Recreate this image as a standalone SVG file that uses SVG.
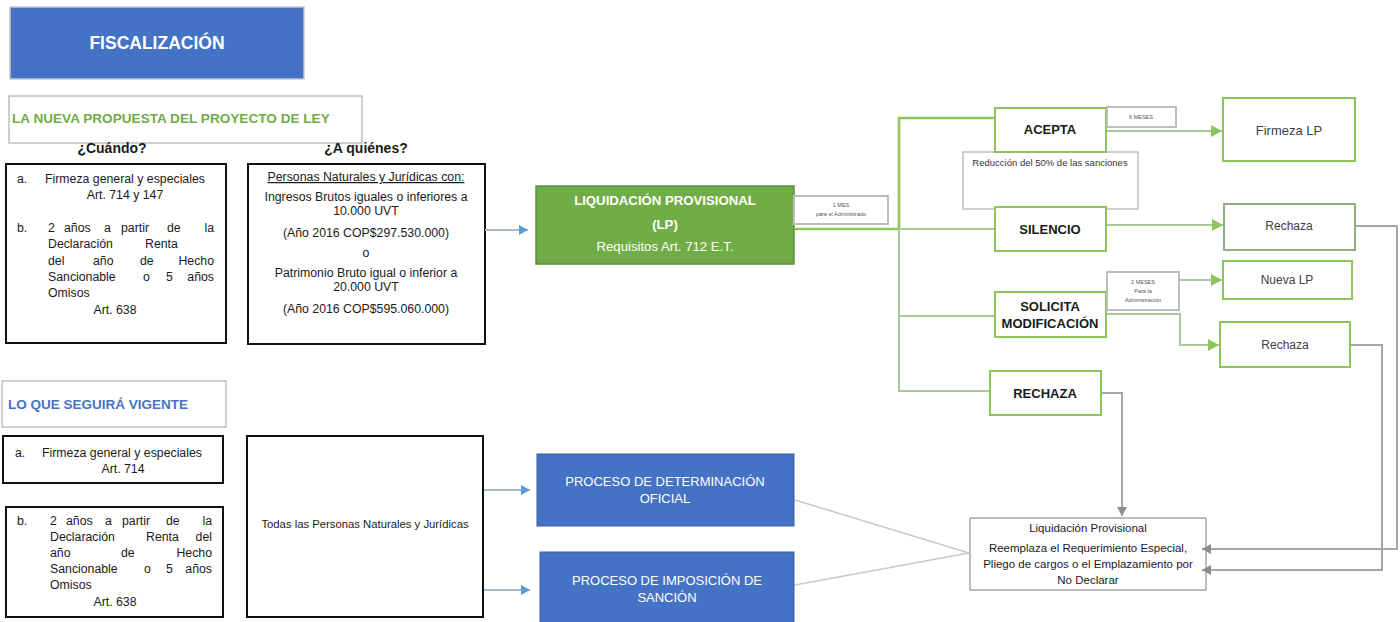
<svg xmlns="http://www.w3.org/2000/svg" width="1400" height="622" viewBox="0 0 1400 622">
<style>
text{font-family:"Liberation Sans",Arial,sans-serif;fill:#1a1a1a}
.b{font-weight:bold}
.c{text-anchor:middle}
.e{text-anchor:end}
.blk{fill:#fff;stroke:#111;stroke-width:2}
.gbox{fill:#fff;stroke:#8DC45C;stroke-width:2}
.gray{fill:#fff;stroke:#BFBFBF;stroke-width:1.5}
.lbl{fill:#fff;stroke:#BDBDBD;stroke-width:2}
.tiny{font-size:5.5px;fill:#555}
.w{fill:#fff}
.t12{font-size:12.3px}
.conG{fill:none;stroke:#A9C99A;stroke-width:2}
.conG2{fill:none;stroke:#8DC45C;stroke-width:2.5}
.conB{fill:none;stroke:#A6B8CC;stroke-width:2}
.conY{fill:none;stroke:#A6A6A6;stroke-width:2}
.conL{fill:none;stroke:#C8C8C8;stroke-width:1.5}
</style>
<defs>
<marker id="ag" markerUnits="userSpaceOnUse" markerWidth="12" markerHeight="12" refX="11" refY="6" orient="auto"><path d="M0,0 L11,6 L0,12 z" fill="#8DC45C"/></marker>
<marker id="ab" markerUnits="userSpaceOnUse" markerWidth="10" markerHeight="10" refX="9" refY="5" orient="auto"><path d="M0,0 L9,5 L0,10 z" fill="#5B9BD5"/></marker>
<marker id="ay" markerUnits="userSpaceOnUse" markerWidth="10" markerHeight="10" refX="9" refY="5" orient="auto"><path d="M0,0 L9,5 L0,10 z" fill="#8C8C8C"/></marker>
</defs>
<rect width="1400" height="622" fill="#fff"/>

<g id="fiscalizacion">
<rect x="10" y="7" width="294" height="72" fill="#4472C4" stroke="#C9C9C9" stroke-width="1.5"/>
<text x="157" y="49" class="b c w" font-size="17.5" style="fill:#fff">FISCALIZACIÓN</text>
</g>

<g id="nueva-propuesta">
<rect x="9" y="96" width="353" height="47" class="gray"/>
<text x="12" y="123" class="b" font-size="13.6" style="fill:#70AD47">LA NUEVA PROPUESTA DEL PROYECTO DE LEY</text>
</g>

<g id="cuando-title"><text x="112" y="153" class="b c" font-size="14">¿Cuándo?</text></g>
<g id="aquienes-title"><text x="366" y="153" class="b c" font-size="14">¿A quiénes?</text></g>

<g id="cuando-box" class="t12">
<rect x="6" y="164" width="220" height="179" class="blk"/>
<text x="17" y="183">a.</text>
<text x="45" y="183">Firmeza general y especiales</text>
<text x="125" y="199" class="c">Art. 714 y 147</text>
<text x="17" y="232">b.</text>
<text y="232"><tspan x="48">2</tspan><tspan x="64">años</tspan><tspan x="104">a</tspan><tspan x="121">partir</tspan><tspan x="167">de</tspan></text>
<text x="214" y="232" class="e">la</text>
<text y="248"><tspan x="48">Declaración</tspan><tspan x="145">Renta</tspan></text>
<text y="265"><tspan x="48">del</tspan><tspan x="93">año</tspan><tspan x="140">de</tspan></text>
<text x="214" y="265" class="e">Hecho</text>
<text y="281"><tspan x="48">Sancionable</tspan><tspan x="143">o</tspan><tspan x="166">5</tspan></text>
<text x="214" y="281" class="e">años</text>
<text x="48" y="297">Omisos</text>
<text x="115" y="314" class="c">Art. 638</text>
</g>

<g id="aquienes-box" class="t12">
<rect x="248" y="164" width="237" height="180" class="blk"/>
<text x="366" y="181" class="c" text-decoration="underline">Personas Naturales  y Jurídicas con:</text>
<text x="366" y="201" class="c">Ingresos Brutos iguales o inferiores a</text>
<text x="366" y="215" class="c">10.000 UVT</text>
<text x="366" y="237" class="c">(Año 2016 COP$297.530.000)</text>
<text x="366" y="257" class="c">o</text>
<text x="366" y="277" class="c">Patrimonio Bruto igual o inferior a</text>
<text x="366" y="291" class="c">20.000 UVT</text>
<text x="366" y="313" class="c">(Año 2016 COP$595.060.000)</text>
</g>

<g id="liquidacion-provisional">
<rect x="536" y="186" width="258" height="78" fill="#70AD47" stroke="#5E8F3C" stroke-width="1.5"/>
<text x="665" y="205" class="b c" font-size="13.2" style="fill:#fff">LIQUIDACIÓN PROVISIONAL</text>
<text x="665" y="229" class="b c" font-size="13.2" style="fill:#fff">(LP)</text>
<text x="665" y="251" class="c" font-size="13.2" style="fill:#fff">Requisitos Art. 712 E.T.</text>
</g>

<g id="label-1mes">
<rect x="794" y="196" width="94" height="28" class="lbl"/>
<text x="841" y="207" class="c tiny">1 MES</text>
<text x="841" y="216" class="c tiny">para el Administrado</text>
</g>

<g id="reduccion">
<rect x="963" y="152" width="175" height="57" class="gray"/>
<text x="1050" y="166" class="c" font-size="9.5" style="fill:#333">Reducción del 50% de las sanciones</text>
</g>

<g id="acepta">
<rect x="995" y="108" width="111" height="44" class="gbox"/>
<text x="1050" y="134" class="b c" font-size="13">ACEPTA</text>
</g>

<g id="label-6meses">
<rect x="1107" y="107" width="69" height="20" class="lbl"/>
<text x="1141" y="119" class="c tiny">6 MESES</text>
</g>

<g id="silencio">
<rect x="995" y="207" width="111" height="44" class="gbox"/>
<text x="1050" y="234" class="b c" font-size="13">SILENCIO</text>
</g>

<g id="solicita">
<rect x="995" y="292" width="111" height="45" class="gbox"/>
<text x="1050" y="311" class="b c" font-size="13">SOLICITA</text>
<text x="1050" y="328" class="b c" font-size="13">MODIFICACIÓN</text>
</g>

<g id="label-2meses">
<rect x="1107" y="272" width="72" height="38" class="lbl"/>
<text x="1143" y="284" class="c tiny">2 MESES</text>
<text x="1143" y="293" class="c tiny">Para la</text>
<text x="1143" y="302" class="c tiny">Administración</text>
</g>

<g id="rechaza-main">
<rect x="990" y="371" width="111" height="44" class="gbox"/>
<text x="1045" y="398" class="b c" font-size="13">RECHAZA</text>
</g>

<g id="firmeza">
<rect x="1223" y="98" width="132" height="63" class="gbox"/>
<text x="1289" y="135" class="c" font-size="13" style="fill:#404040">Firmeza LP</text>
</g>

<g id="rechaza-1">
<rect x="1224" y="204" width="131" height="46" fill="#fff" stroke="#8FAF7C" stroke-width="2"/>
<text x="1289" y="230" class="c" font-size="12" style="fill:#404040">Rechaza</text>
</g>

<g id="nueva-lp">
<rect x="1223" y="261" width="129" height="38" class="gbox"/>
<text x="1287" y="284" class="c" font-size="12" style="fill:#404040">Nueva LP</text>
</g>

<g id="rechaza-2">
<rect x="1220" y="322" width="130" height="45" class="gbox"/>
<text x="1285" y="349" class="c" font-size="12" style="fill:#404040">Rechaza</text>
</g>

<g id="liquidacion-final">
<rect x="970" y="518" width="236" height="72" fill="#fff" stroke="#A6A6A6" stroke-width="1.5"/>
<text x="1088" y="532" class="c" font-size="11.5">Liquidación Provisional</text>
<text x="1088" y="552" class="c" font-size="11.5">Reemplaza el Requerimiento Especial,</text>
<text x="1088" y="568" class="c" font-size="11.5">Pliego de cargos o el Emplazamiento por</text>
<text x="1088" y="584" class="c" font-size="11.5">No Declarar</text>
</g>

<g id="vigente">
<rect x="2" y="381" width="224" height="46" class="gray"/>
<text x="8" y="409" class="b" font-size="13.5" style="fill:#4472C4">LO QUE SEGUIRÁ VIGENTE</text>
</g>

<g id="vigente-a" class="t12">
<rect x="3" y="436" width="220" height="47" class="blk"/>
<text x="15" y="457">a.</text>
<text x="42" y="457">Firmeza general y especiales</text>
<text x="123" y="473" class="c">Art. 714</text>
</g>

<g id="vigente-b" class="t12">
<rect x="6" y="507" width="217" height="110" class="blk"/>
<text x="17" y="525">b.</text>
<text y="525"><tspan x="50">2</tspan><tspan x="66">años</tspan><tspan x="105">a</tspan><tspan x="122">partir</tspan><tspan x="166">de</tspan></text>
<text x="212" y="525" class="e">la</text>
<text y="541"><tspan x="50">Declaración</tspan><tspan x="146">Renta</tspan></text>
<text x="212" y="541" class="e">del</text>
<text y="557"><tspan x="50">año</tspan><tspan x="121">de</tspan></text>
<text x="212" y="557" class="e">Hecho</text>
<text y="573"><tspan x="50">Sancionable</tspan><tspan x="144">o</tspan><tspan x="166">5</tspan></text>
<text x="212" y="573" class="e">años</text>
<text x="50" y="589">Omisos</text>
<text x="115" y="606" class="c">Art. 638</text>
</g>

<g id="todas">
<rect x="247" y="436" width="236" height="181" class="blk"/>
<text x="365" y="528" class="c" font-size="11.3">Todas las Personas Naturales y Jurídicas</text>
</g>

<g id="determinacion">
<rect x="537" y="454" width="257" height="72" fill="#4472C4" stroke="#3A5F9F" stroke-width="1"/>
<text x="665" y="486" class="c" font-size="13" style="fill:#fff">PROCESO DE DETERMINACIÓN</text>
<text x="665" y="503" class="c" font-size="13" style="fill:#fff">OFICIAL</text>
</g>

<g id="imposicion">
<rect x="540" y="552" width="254" height="75" fill="#4472C4" stroke="#3A5F9F" stroke-width="1"/>
<text x="667" y="585" class="c" font-size="13" style="fill:#fff">PROCESO DE IMPOSICIÓN DE</text>
<text x="667" y="602" class="c" font-size="13" style="fill:#fff">SANCIÓN</text>
</g>

<g id="connectors">
<path class="conB" d="M485,230 H528" marker-end="url(#ab)"/>
<path class="conB" d="M484,490 H530" marker-end="url(#ab)"/>
<path class="conB" d="M484,590 H530" marker-end="url(#ab)"/>
<path class="conG2" d="M795,229 H899"/>
<path class="conG2" d="M899,229 V118 H994"/>
<path class="conG" d="M899,229 H994"/>
<path class="conG" d="M899,229 V391 H989"/>
<path class="conG" d="M899,316 H994"/>
<path class="conG" d="M1107,131 H1222" marker-end="url(#ag)"/>
<path class="conG" d="M1107,225 H1223" marker-end="url(#ag)"/>
<path class="conG" d="M1180,280 H1222" marker-end="url(#ag)"/>
<path class="conG" d="M1107,314 H1180 V345 H1219" marker-end="url(#ag)"/>
<path class="conY" d="M1102,393 H1122 V516" marker-end="url(#ay)"/>
<path class="conY" d="M1356,226 H1397 V549 H1202" marker-end="url(#ay)"/>
<path class="conY" d="M1351,345 H1382 V570 H1202" marker-end="url(#ay)"/>
<path class="conL" d="M795,500 L969,553"/>
<path class="conL" d="M795,585 L969,553"/>
</g>
</svg>
